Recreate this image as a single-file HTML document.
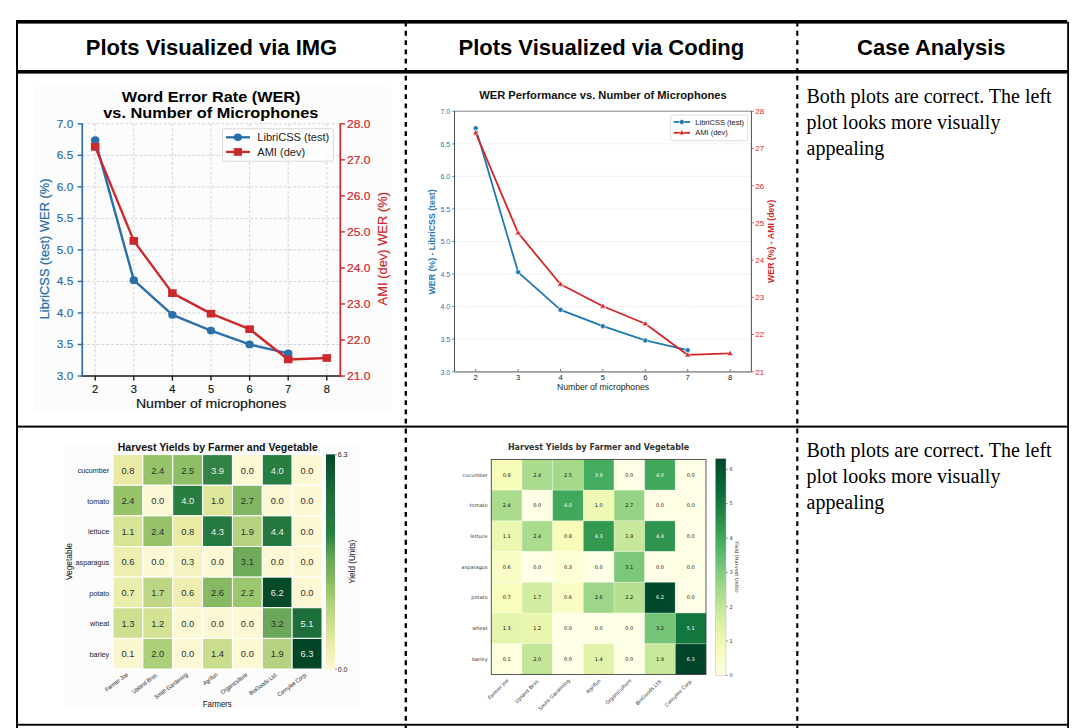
<!DOCTYPE html>
<html><head><meta charset="utf-8"><title>Plots comparison</title>
<style>
html,body{margin:0;padding:0;background:#fff;}
body{width:1080px;height:728px;overflow:hidden;position:relative;font-family:"Liberation Sans",sans-serif;}
svg{position:absolute;left:0;top:0;}
</style></head><body>
<svg width="1080" height="728" viewBox="0 0 1080 728" font-family="Liberation Sans, sans-serif">
<rect x="16.00" y="20.00" width="1051.20" height="3.60" fill="#000"/>
<rect x="16.00" y="70.00" width="1053.00" height="3.60" fill="#000"/>
<rect x="16.00" y="425.60" width="1053.00" height="2.00" fill="#000"/>
<rect x="16.00" y="723.80" width="1053.00" height="1.90" fill="#000"/>
<rect x="16.00" y="20.00" width="2.00" height="708.00" fill="#000"/>
<rect x="1067.20" y="21.80" width="1.80" height="706.20" fill="#000"/>
<line x1="405.8" y1="21.6" x2="405.8" y2="70" stroke="#000" stroke-width="2.4" stroke-dasharray="4.8 4.47"/>
<line x1="405.8" y1="75.7" x2="405.8" y2="425.6" stroke="#000" stroke-width="2.4" stroke-dasharray="4.8 4.47"/>
<line x1="405.8" y1="428.6" x2="405.8" y2="723.8" stroke="#000" stroke-width="2.4" stroke-dasharray="4.8 4.47"/>
<line x1="405.8" y1="725.6" x2="405.8" y2="728" stroke="#000" stroke-width="2.4" stroke-dasharray="4.8 4.47"/>
<line x1="797.3" y1="21.6" x2="797.3" y2="70" stroke="#000" stroke-width="2.2" stroke-dasharray="4.8 4.47"/>
<line x1="797.3" y1="75.7" x2="797.3" y2="425.6" stroke="#000" stroke-width="2.2" stroke-dasharray="4.8 4.47"/>
<line x1="797.3" y1="428.6" x2="797.3" y2="723.8" stroke="#000" stroke-width="2.2" stroke-dasharray="4.8 4.47"/>
<line x1="797.3" y1="725.6" x2="797.3" y2="728" stroke="#000" stroke-width="2.2" stroke-dasharray="4.8 4.47"/>
<text x="211.50" y="55.00" font-size="22" fill="#000" text-anchor="middle" font-weight="bold">Plots Visualized via IMG</text>
<text x="601.30" y="55.00" font-size="22" fill="#000" text-anchor="middle" font-weight="bold">Plots Visualized via Coding</text>
<text x="931.30" y="55.00" font-size="22" fill="#000" text-anchor="middle" font-weight="bold">Case Analysis</text>
<text x="806.50" y="102.70" font-size="20" fill="#000" text-anchor="start" font-family="Liberation Serif, serif">Both plots are correct. The left</text>
<text x="806.50" y="128.60" font-size="20" fill="#000" text-anchor="start" font-family="Liberation Serif, serif">plot looks more visually</text>
<text x="806.50" y="154.50" font-size="20" fill="#000" text-anchor="start" font-family="Liberation Serif, serif">appealing</text>
<text x="806.50" y="456.90" font-size="20" fill="#000" text-anchor="start" font-family="Liberation Serif, serif">Both plots are correct. The left</text>
<text x="806.50" y="482.80" font-size="20" fill="#000" text-anchor="start" font-family="Liberation Serif, serif">plot looks more visually</text>
<text x="806.50" y="508.70" font-size="20" fill="#000" text-anchor="start" font-family="Liberation Serif, serif">appealing</text>
<rect x="34.00" y="86.00" width="357.00" height="326.00" fill="#fcfcfc"/>
<line x1="95.20" y1="123.80" x2="95.20" y2="376.00" stroke="#d2d2d2" stroke-width="1.0" stroke-dasharray="2.8 2.0"/>
<line x1="133.80" y1="123.80" x2="133.80" y2="376.00" stroke="#d2d2d2" stroke-width="1.0" stroke-dasharray="2.8 2.0"/>
<line x1="172.40" y1="123.80" x2="172.40" y2="376.00" stroke="#d2d2d2" stroke-width="1.0" stroke-dasharray="2.8 2.0"/>
<line x1="211.00" y1="123.80" x2="211.00" y2="376.00" stroke="#d2d2d2" stroke-width="1.0" stroke-dasharray="2.8 2.0"/>
<line x1="249.60" y1="123.80" x2="249.60" y2="376.00" stroke="#d2d2d2" stroke-width="1.0" stroke-dasharray="2.8 2.0"/>
<line x1="288.20" y1="123.80" x2="288.20" y2="376.00" stroke="#d2d2d2" stroke-width="1.0" stroke-dasharray="2.8 2.0"/>
<line x1="326.80" y1="123.80" x2="326.80" y2="376.00" stroke="#d2d2d2" stroke-width="1.0" stroke-dasharray="2.8 2.0"/>
<line x1="82.25" y1="376.00" x2="340.30" y2="376.00" stroke="#d2d2d2" stroke-width="1.0" stroke-dasharray="2.8 2.0"/>
<line x1="82.25" y1="344.47" x2="340.30" y2="344.47" stroke="#d2d2d2" stroke-width="1.0" stroke-dasharray="2.8 2.0"/>
<line x1="82.25" y1="312.95" x2="340.30" y2="312.95" stroke="#d2d2d2" stroke-width="1.0" stroke-dasharray="2.8 2.0"/>
<line x1="82.25" y1="281.43" x2="340.30" y2="281.43" stroke="#d2d2d2" stroke-width="1.0" stroke-dasharray="2.8 2.0"/>
<line x1="82.25" y1="249.90" x2="340.30" y2="249.90" stroke="#d2d2d2" stroke-width="1.0" stroke-dasharray="2.8 2.0"/>
<line x1="82.25" y1="218.38" x2="340.30" y2="218.38" stroke="#d2d2d2" stroke-width="1.0" stroke-dasharray="2.8 2.0"/>
<line x1="82.25" y1="186.85" x2="340.30" y2="186.85" stroke="#d2d2d2" stroke-width="1.0" stroke-dasharray="2.8 2.0"/>
<line x1="82.25" y1="155.32" x2="340.30" y2="155.32" stroke="#d2d2d2" stroke-width="1.0" stroke-dasharray="2.8 2.0"/>
<line x1="82.25" y1="123.80" x2="340.30" y2="123.80" stroke="#d2d2d2" stroke-width="1.0" stroke-dasharray="2.8 2.0"/>
<line x1="81.40" y1="376.00" x2="341.15" y2="376.00" stroke="#1a1a1a" stroke-width="1.7"/>
<line x1="82.25" y1="123.50" x2="82.25" y2="376.85" stroke="#2a6faa" stroke-width="1.7"/>
<line x1="340.30" y1="123.50" x2="340.30" y2="376.85" stroke="#cc292d" stroke-width="1.7"/>
<line x1="95.20" y1="376.00" x2="95.20" y2="380.60" stroke="#1a1a1a" stroke-width="1.4"/>
<text x="95.20" y="393.20" font-size="11.2" fill="#111" text-anchor="middle" textLength="6.2" lengthAdjust="spacingAndGlyphs" stroke="#111" stroke-width="0.15">2</text>
<line x1="133.80" y1="376.00" x2="133.80" y2="380.60" stroke="#1a1a1a" stroke-width="1.4"/>
<text x="133.80" y="393.20" font-size="11.2" fill="#111" text-anchor="middle" textLength="6.2" lengthAdjust="spacingAndGlyphs" stroke="#111" stroke-width="0.15">3</text>
<line x1="172.40" y1="376.00" x2="172.40" y2="380.60" stroke="#1a1a1a" stroke-width="1.4"/>
<text x="172.40" y="393.20" font-size="11.2" fill="#111" text-anchor="middle" textLength="6.2" lengthAdjust="spacingAndGlyphs" stroke="#111" stroke-width="0.15">4</text>
<line x1="211.00" y1="376.00" x2="211.00" y2="380.60" stroke="#1a1a1a" stroke-width="1.4"/>
<text x="211.00" y="393.20" font-size="11.2" fill="#111" text-anchor="middle" textLength="6.2" lengthAdjust="spacingAndGlyphs" stroke="#111" stroke-width="0.15">5</text>
<line x1="249.60" y1="376.00" x2="249.60" y2="380.60" stroke="#1a1a1a" stroke-width="1.4"/>
<text x="249.60" y="393.20" font-size="11.2" fill="#111" text-anchor="middle" textLength="6.2" lengthAdjust="spacingAndGlyphs" stroke="#111" stroke-width="0.15">6</text>
<line x1="288.20" y1="376.00" x2="288.20" y2="380.60" stroke="#1a1a1a" stroke-width="1.4"/>
<text x="288.20" y="393.20" font-size="11.2" fill="#111" text-anchor="middle" textLength="6.2" lengthAdjust="spacingAndGlyphs" stroke="#111" stroke-width="0.15">7</text>
<line x1="326.80" y1="376.00" x2="326.80" y2="380.60" stroke="#1a1a1a" stroke-width="1.4"/>
<text x="326.80" y="393.20" font-size="11.2" fill="#111" text-anchor="middle" textLength="6.2" lengthAdjust="spacingAndGlyphs" stroke="#111" stroke-width="0.15">8</text>
<line x1="77.65" y1="376.00" x2="82.25" y2="376.00" stroke="#2a6faa" stroke-width="1.4"/>
<text x="73.20" y="380.00" font-size="11.4" fill="#2a6faa" text-anchor="end" textLength="16.4" lengthAdjust="spacingAndGlyphs" stroke="#2a6faa" stroke-width="0.2">3.0</text>
<line x1="77.65" y1="344.47" x2="82.25" y2="344.47" stroke="#2a6faa" stroke-width="1.4"/>
<text x="73.20" y="348.47" font-size="11.4" fill="#2a6faa" text-anchor="end" textLength="16.4" lengthAdjust="spacingAndGlyphs" stroke="#2a6faa" stroke-width="0.2">3.5</text>
<line x1="77.65" y1="312.95" x2="82.25" y2="312.95" stroke="#2a6faa" stroke-width="1.4"/>
<text x="73.20" y="316.95" font-size="11.4" fill="#2a6faa" text-anchor="end" textLength="16.4" lengthAdjust="spacingAndGlyphs" stroke="#2a6faa" stroke-width="0.2">4.0</text>
<line x1="77.65" y1="281.43" x2="82.25" y2="281.43" stroke="#2a6faa" stroke-width="1.4"/>
<text x="73.20" y="285.43" font-size="11.4" fill="#2a6faa" text-anchor="end" textLength="16.4" lengthAdjust="spacingAndGlyphs" stroke="#2a6faa" stroke-width="0.2">4.5</text>
<line x1="77.65" y1="249.90" x2="82.25" y2="249.90" stroke="#2a6faa" stroke-width="1.4"/>
<text x="73.20" y="253.90" font-size="11.4" fill="#2a6faa" text-anchor="end" textLength="16.4" lengthAdjust="spacingAndGlyphs" stroke="#2a6faa" stroke-width="0.2">5.0</text>
<line x1="77.65" y1="218.38" x2="82.25" y2="218.38" stroke="#2a6faa" stroke-width="1.4"/>
<text x="73.20" y="222.38" font-size="11.4" fill="#2a6faa" text-anchor="end" textLength="16.4" lengthAdjust="spacingAndGlyphs" stroke="#2a6faa" stroke-width="0.2">5.5</text>
<line x1="77.65" y1="186.85" x2="82.25" y2="186.85" stroke="#2a6faa" stroke-width="1.4"/>
<text x="73.20" y="190.85" font-size="11.4" fill="#2a6faa" text-anchor="end" textLength="16.4" lengthAdjust="spacingAndGlyphs" stroke="#2a6faa" stroke-width="0.2">6.0</text>
<line x1="77.65" y1="155.32" x2="82.25" y2="155.32" stroke="#2a6faa" stroke-width="1.4"/>
<text x="73.20" y="159.32" font-size="11.4" fill="#2a6faa" text-anchor="end" textLength="16.4" lengthAdjust="spacingAndGlyphs" stroke="#2a6faa" stroke-width="0.2">6.5</text>
<line x1="77.65" y1="123.80" x2="82.25" y2="123.80" stroke="#2a6faa" stroke-width="1.4"/>
<text x="73.20" y="127.80" font-size="11.4" fill="#2a6faa" text-anchor="end" textLength="16.4" lengthAdjust="spacingAndGlyphs" stroke="#2a6faa" stroke-width="0.2">7.0</text>
<line x1="340.30" y1="376.01" x2="344.90" y2="376.01" stroke="#cc292d" stroke-width="1.4"/>
<text x="347.00" y="380.01" font-size="11.4" fill="#cc292d" text-anchor="start" textLength="23.3" lengthAdjust="spacingAndGlyphs" stroke="#cc292d" stroke-width="0.2">21.0</text>
<line x1="340.30" y1="339.98" x2="344.90" y2="339.98" stroke="#cc292d" stroke-width="1.4"/>
<text x="347.00" y="343.98" font-size="11.4" fill="#cc292d" text-anchor="start" textLength="23.3" lengthAdjust="spacingAndGlyphs" stroke="#cc292d" stroke-width="0.2">22.0</text>
<line x1="340.30" y1="303.95" x2="344.90" y2="303.95" stroke="#cc292d" stroke-width="1.4"/>
<text x="347.00" y="307.95" font-size="11.4" fill="#cc292d" text-anchor="start" textLength="23.3" lengthAdjust="spacingAndGlyphs" stroke="#cc292d" stroke-width="0.2">23.0</text>
<line x1="340.30" y1="267.92" x2="344.90" y2="267.92" stroke="#cc292d" stroke-width="1.4"/>
<text x="347.00" y="271.92" font-size="11.4" fill="#cc292d" text-anchor="start" textLength="23.3" lengthAdjust="spacingAndGlyphs" stroke="#cc292d" stroke-width="0.2">24.0</text>
<line x1="340.30" y1="231.89" x2="344.90" y2="231.89" stroke="#cc292d" stroke-width="1.4"/>
<text x="347.00" y="235.89" font-size="11.4" fill="#cc292d" text-anchor="start" textLength="23.3" lengthAdjust="spacingAndGlyphs" stroke="#cc292d" stroke-width="0.2">25.0</text>
<line x1="340.30" y1="195.86" x2="344.90" y2="195.86" stroke="#cc292d" stroke-width="1.4"/>
<text x="347.00" y="199.86" font-size="11.4" fill="#cc292d" text-anchor="start" textLength="23.3" lengthAdjust="spacingAndGlyphs" stroke="#cc292d" stroke-width="0.2">26.0</text>
<line x1="340.30" y1="159.83" x2="344.90" y2="159.83" stroke="#cc292d" stroke-width="1.4"/>
<text x="347.00" y="163.83" font-size="11.4" fill="#cc292d" text-anchor="start" textLength="23.3" lengthAdjust="spacingAndGlyphs" stroke="#cc292d" stroke-width="0.2">27.0</text>
<line x1="340.30" y1="123.80" x2="344.90" y2="123.80" stroke="#cc292d" stroke-width="1.4"/>
<text x="347.00" y="127.80" font-size="11.4" fill="#cc292d" text-anchor="start" textLength="23.3" lengthAdjust="spacingAndGlyphs" stroke="#cc292d" stroke-width="0.2">28.0</text>
<text x="211.10" y="408.10" font-size="12.2" fill="#111" text-anchor="middle" textLength="150.4" lengthAdjust="spacingAndGlyphs" stroke="#111" stroke-width="0.15">Number of microphones</text>
<text x="48.60" y="248.90" font-size="13.2" fill="#2a6faa" text-anchor="middle" textLength="140.8" lengthAdjust="spacingAndGlyphs" transform="rotate(-90 48.60 248.90)" stroke="#2a6faa" stroke-width="0.2">LibriCSS (test) WER (%)</text>
<text x="386.60" y="248.70" font-size="13.2" fill="#cc292d" text-anchor="middle" textLength="113.4" lengthAdjust="spacingAndGlyphs" transform="rotate(-90 386.60 248.70)" stroke="#cc292d" stroke-width="0.2">AMI (dev) WER (%)</text>
<text x="211.20" y="101.50" font-size="14.2" fill="#000" text-anchor="middle" font-weight="bold" textLength="178.7" lengthAdjust="spacingAndGlyphs">Word Error Rate (WER)</text>
<text x="210.80" y="117.60" font-size="14.2" fill="#000" text-anchor="middle" font-weight="bold" textLength="215.1" lengthAdjust="spacingAndGlyphs">vs. Number of Microphones</text>
<polyline points="95.20,140.19 133.80,280.16 172.40,314.84 211.00,330.60 249.60,344.47 288.20,353.30" fill="none" stroke="#2a6faa" stroke-width="2.4" stroke-linejoin="round"/>
<ellipse cx="95.20" cy="140.19" rx="4.2" ry="3.9" fill="#2a6faa"/>
<ellipse cx="133.80" cy="280.16" rx="4.2" ry="3.9" fill="#2a6faa"/>
<ellipse cx="172.40" cy="314.84" rx="4.2" ry="3.9" fill="#2a6faa"/>
<ellipse cx="211.00" cy="330.60" rx="4.2" ry="3.9" fill="#2a6faa"/>
<ellipse cx="249.60" cy="344.47" rx="4.2" ry="3.9" fill="#2a6faa"/>
<ellipse cx="288.20" cy="353.30" rx="4.2" ry="3.9" fill="#2a6faa"/>
<polyline points="95.20,146.86 133.80,240.90 172.40,293.14 211.00,313.68 249.60,329.17 288.20,359.44 326.80,358.00" fill="none" stroke="#cc292d" stroke-width="2.4" stroke-linejoin="round"/>
<rect x="90.90" y="143.01" width="8.60" height="7.70" fill="#cc292d"/>
<rect x="129.50" y="237.05" width="8.60" height="7.70" fill="#cc292d"/>
<rect x="168.10" y="289.29" width="8.60" height="7.70" fill="#cc292d"/>
<rect x="206.70" y="309.83" width="8.60" height="7.70" fill="#cc292d"/>
<rect x="245.30" y="325.32" width="8.60" height="7.70" fill="#cc292d"/>
<rect x="283.90" y="355.59" width="8.60" height="7.70" fill="#cc292d"/>
<rect x="322.50" y="354.14" width="8.60" height="7.70" fill="#cc292d"/>
<rect x="222.6" y="128.8" width="110.8" height="32.4" rx="2" fill="#fff" fill-opacity="0.85" stroke="#d4d4d4" stroke-width="0.9"/>
<line x1="226.00" y1="137.30" x2="250.00" y2="137.30" stroke="#2a6faa" stroke-width="2.3"/>
<ellipse cx="237.9" cy="137.3" rx="4.1" ry="3.8" fill="#2a6faa"/>
<line x1="226.00" y1="151.90" x2="250.00" y2="151.90" stroke="#cc292d" stroke-width="2.3"/>
<rect x="233.80" y="148.10" width="8.20" height="7.70" fill="#cc292d"/>
<text x="257.30" y="140.90" font-size="10.2" fill="#222" text-anchor="start" textLength="72" lengthAdjust="spacingAndGlyphs">LibriCSS (test)</text>
<text x="257.30" y="155.60" font-size="10.2" fill="#222" text-anchor="start" textLength="47.9" lengthAdjust="spacingAndGlyphs">AMI (dev)</text>
<line x1="454.50" y1="339.15" x2="751.40" y2="339.15" stroke="#dedede" stroke-width="0.7" stroke-dasharray="1.6 1.2"/>
<line x1="454.50" y1="306.60" x2="751.40" y2="306.60" stroke="#dedede" stroke-width="0.7" stroke-dasharray="1.6 1.2"/>
<line x1="454.50" y1="274.05" x2="751.40" y2="274.05" stroke="#dedede" stroke-width="0.7" stroke-dasharray="1.6 1.2"/>
<line x1="454.50" y1="241.50" x2="751.40" y2="241.50" stroke="#dedede" stroke-width="0.7" stroke-dasharray="1.6 1.2"/>
<line x1="454.50" y1="208.95" x2="751.40" y2="208.95" stroke="#dedede" stroke-width="0.7" stroke-dasharray="1.6 1.2"/>
<line x1="454.50" y1="176.40" x2="751.40" y2="176.40" stroke="#dedede" stroke-width="0.7" stroke-dasharray="1.6 1.2"/>
<line x1="454.50" y1="143.85" x2="751.40" y2="143.85" stroke="#dedede" stroke-width="0.7" stroke-dasharray="1.6 1.2"/>
<polyline points="475.70,128.23 518.10,272.10 560.50,309.85 602.90,326.13 645.30,340.45 687.70,350.22" fill="none" stroke="#1f77b4" stroke-width="1.8" stroke-linejoin="round"/>
<polyline points="475.70,132.88 518.10,232.94 560.50,284.28 602.90,306.23 645.30,323.71 687.70,354.96 730.10,353.47" fill="none" stroke="#d62728" stroke-width="1.8" stroke-linejoin="round"/>
<circle cx="475.70" cy="128.23" r="2.5" fill="#1f77b4" stroke="#fff" stroke-width="0.6"/>
<circle cx="518.10" cy="272.10" r="2.5" fill="#1f77b4" stroke="#fff" stroke-width="0.6"/>
<circle cx="560.50" cy="309.85" r="2.5" fill="#1f77b4" stroke="#fff" stroke-width="0.6"/>
<circle cx="602.90" cy="326.13" r="2.5" fill="#1f77b4" stroke="#fff" stroke-width="0.6"/>
<circle cx="645.30" cy="340.45" r="2.5" fill="#1f77b4" stroke="#fff" stroke-width="0.6"/>
<circle cx="687.70" cy="350.22" r="2.5" fill="#1f77b4" stroke="#fff" stroke-width="0.6"/>
<polygon points="475.70,129.68 478.74,134.80 472.66,134.80" fill="#d62728" stroke="#fff" stroke-width="0.6"/>
<polygon points="518.10,229.74 521.14,234.86 515.06,234.86" fill="#d62728" stroke="#fff" stroke-width="0.6"/>
<polygon points="560.50,281.08 563.54,286.20 557.46,286.20" fill="#d62728" stroke="#fff" stroke-width="0.6"/>
<polygon points="602.90,303.03 605.94,308.15 599.86,308.15" fill="#d62728" stroke="#fff" stroke-width="0.6"/>
<polygon points="645.30,320.51 648.34,325.63 642.26,325.63" fill="#d62728" stroke="#fff" stroke-width="0.6"/>
<polygon points="687.70,351.76 690.74,356.88 684.66,356.88" fill="#d62728" stroke="#fff" stroke-width="0.6"/>
<polygon points="730.10,350.27 733.14,355.39 727.06,355.39" fill="#d62728" stroke="#fff" stroke-width="0.6"/>
<line x1="454.00" y1="111.20" x2="751.90" y2="111.20" stroke="#777" stroke-width="0.9"/>
<line x1="454.50" y1="111.20" x2="454.50" y2="371.50" stroke="#4d4d4d" stroke-width="1.0"/>
<line x1="751.40" y1="111.20" x2="751.40" y2="371.50" stroke="#4d4d4d" stroke-width="1.0"/>
<line x1="454.00" y1="371.90" x2="751.90" y2="371.90" stroke="#9a9a9a" stroke-width="1.7"/>
<line x1="475.70" y1="369.10" x2="475.70" y2="371.10" stroke="#444" stroke-width="0.8"/>
<text x="475.70" y="379.90" font-size="7.6" fill="#222" text-anchor="middle">2</text>
<line x1="518.10" y1="369.10" x2="518.10" y2="371.10" stroke="#444" stroke-width="0.8"/>
<text x="518.10" y="379.90" font-size="7.6" fill="#222" text-anchor="middle">3</text>
<line x1="560.50" y1="369.10" x2="560.50" y2="371.10" stroke="#444" stroke-width="0.8"/>
<text x="560.50" y="379.90" font-size="7.6" fill="#222" text-anchor="middle">4</text>
<line x1="602.90" y1="369.10" x2="602.90" y2="371.10" stroke="#444" stroke-width="0.8"/>
<text x="602.90" y="379.90" font-size="7.6" fill="#222" text-anchor="middle">5</text>
<line x1="645.30" y1="369.10" x2="645.30" y2="371.10" stroke="#444" stroke-width="0.8"/>
<text x="645.30" y="379.90" font-size="7.6" fill="#222" text-anchor="middle">6</text>
<line x1="687.70" y1="369.10" x2="687.70" y2="371.10" stroke="#444" stroke-width="0.8"/>
<text x="687.70" y="379.90" font-size="7.6" fill="#222" text-anchor="middle">7</text>
<line x1="730.10" y1="369.10" x2="730.10" y2="371.10" stroke="#444" stroke-width="0.8"/>
<text x="730.10" y="379.90" font-size="7.6" fill="#222" text-anchor="middle">8</text>
<line x1="452.20" y1="371.70" x2="454.50" y2="371.70" stroke="#1f77b4" stroke-width="0.8"/>
<text x="450.20" y="374.50" font-size="7.6" fill="#1f77b4" text-anchor="end" textLength="9.8" lengthAdjust="spacingAndGlyphs">3.0</text>
<line x1="452.20" y1="339.15" x2="454.50" y2="339.15" stroke="#1f77b4" stroke-width="0.8"/>
<text x="450.20" y="341.95" font-size="7.6" fill="#1f77b4" text-anchor="end" textLength="9.8" lengthAdjust="spacingAndGlyphs">3.5</text>
<line x1="452.20" y1="306.60" x2="454.50" y2="306.60" stroke="#1f77b4" stroke-width="0.8"/>
<text x="450.20" y="309.40" font-size="7.6" fill="#1f77b4" text-anchor="end" textLength="9.8" lengthAdjust="spacingAndGlyphs">4.0</text>
<line x1="452.20" y1="274.05" x2="454.50" y2="274.05" stroke="#1f77b4" stroke-width="0.8"/>
<text x="450.20" y="276.85" font-size="7.6" fill="#1f77b4" text-anchor="end" textLength="9.8" lengthAdjust="spacingAndGlyphs">4.5</text>
<line x1="452.20" y1="241.50" x2="454.50" y2="241.50" stroke="#1f77b4" stroke-width="0.8"/>
<text x="450.20" y="244.30" font-size="7.6" fill="#1f77b4" text-anchor="end" textLength="9.8" lengthAdjust="spacingAndGlyphs">5.0</text>
<line x1="452.20" y1="208.95" x2="454.50" y2="208.95" stroke="#1f77b4" stroke-width="0.8"/>
<text x="450.20" y="211.75" font-size="7.6" fill="#1f77b4" text-anchor="end" textLength="9.8" lengthAdjust="spacingAndGlyphs">5.5</text>
<line x1="452.20" y1="176.40" x2="454.50" y2="176.40" stroke="#1f77b4" stroke-width="0.8"/>
<text x="450.20" y="179.20" font-size="7.6" fill="#1f77b4" text-anchor="end" textLength="9.8" lengthAdjust="spacingAndGlyphs">6.0</text>
<line x1="452.20" y1="143.85" x2="454.50" y2="143.85" stroke="#1f77b4" stroke-width="0.8"/>
<text x="450.20" y="146.65" font-size="7.6" fill="#1f77b4" text-anchor="end" textLength="9.8" lengthAdjust="spacingAndGlyphs">6.5</text>
<line x1="452.20" y1="111.30" x2="454.50" y2="111.30" stroke="#1f77b4" stroke-width="0.8"/>
<text x="450.20" y="114.10" font-size="7.6" fill="#1f77b4" text-anchor="end" textLength="9.8" lengthAdjust="spacingAndGlyphs">7.0</text>
<line x1="751.40" y1="371.70" x2="753.70" y2="371.70" stroke="#d62728" stroke-width="0.8"/>
<text x="755.30" y="374.50" font-size="7.6" fill="#d62728" text-anchor="start" textLength="8.9" lengthAdjust="spacingAndGlyphs">21</text>
<line x1="751.40" y1="334.50" x2="753.70" y2="334.50" stroke="#d62728" stroke-width="0.8"/>
<text x="755.30" y="337.30" font-size="7.6" fill="#d62728" text-anchor="start" textLength="8.9" lengthAdjust="spacingAndGlyphs">22</text>
<line x1="751.40" y1="297.30" x2="753.70" y2="297.30" stroke="#d62728" stroke-width="0.8"/>
<text x="755.30" y="300.10" font-size="7.6" fill="#d62728" text-anchor="start" textLength="8.9" lengthAdjust="spacingAndGlyphs">23</text>
<line x1="751.40" y1="260.10" x2="753.70" y2="260.10" stroke="#d62728" stroke-width="0.8"/>
<text x="755.30" y="262.90" font-size="7.6" fill="#d62728" text-anchor="start" textLength="8.9" lengthAdjust="spacingAndGlyphs">24</text>
<line x1="751.40" y1="222.90" x2="753.70" y2="222.90" stroke="#d62728" stroke-width="0.8"/>
<text x="755.30" y="225.70" font-size="7.6" fill="#d62728" text-anchor="start" textLength="8.9" lengthAdjust="spacingAndGlyphs">25</text>
<line x1="751.40" y1="185.70" x2="753.70" y2="185.70" stroke="#d62728" stroke-width="0.8"/>
<text x="755.30" y="188.50" font-size="7.6" fill="#d62728" text-anchor="start" textLength="8.9" lengthAdjust="spacingAndGlyphs">26</text>
<line x1="751.40" y1="148.50" x2="753.70" y2="148.50" stroke="#d62728" stroke-width="0.8"/>
<text x="755.30" y="151.30" font-size="7.6" fill="#d62728" text-anchor="start" textLength="8.9" lengthAdjust="spacingAndGlyphs">27</text>
<line x1="751.40" y1="111.30" x2="753.70" y2="111.30" stroke="#d62728" stroke-width="0.8"/>
<text x="755.30" y="114.10" font-size="7.6" fill="#d62728" text-anchor="start" textLength="8.9" lengthAdjust="spacingAndGlyphs">28</text>
<text x="603.00" y="389.70" font-size="8.6" fill="#222" text-anchor="middle" textLength="92.2" lengthAdjust="spacingAndGlyphs">Number of microphones</text>
<text x="434.60" y="241.90" font-size="8.7" fill="#1f77b4" text-anchor="middle" font-weight="bold" textLength="105" lengthAdjust="spacingAndGlyphs" transform="rotate(-90 434.60 241.90)">WER (%) - LibriCSS (test)</text>
<text x="773.60" y="241.40" font-size="8.7" fill="#d62728" text-anchor="middle" font-weight="bold" textLength="83" lengthAdjust="spacingAndGlyphs" transform="rotate(-90 773.60 241.40)">WER (%) - AMI (dev)</text>
<text x="603.00" y="99.00" font-size="11.2" fill="#111" text-anchor="middle" font-weight="bold" textLength="247.6" lengthAdjust="spacingAndGlyphs">WER Performance vs. Number of Microphones</text>
<rect x="670.8" y="115" width="76.8" height="25.7" rx="1.5" fill="#fff" fill-opacity="0.9" stroke="#d0d0d0" stroke-width="0.7"/>
<line x1="673.80" y1="122.00" x2="690.00" y2="122.00" stroke="#1f77b4" stroke-width="1.8"/>
<circle cx="681.9" cy="122" r="2.5" fill="#1f77b4" stroke="#fff" stroke-width="0.6"/>
<line x1="673.80" y1="132.80" x2="690.00" y2="132.80" stroke="#d62728" stroke-width="1.8"/>
<polygon points="681.90,129.60 684.94,134.72 678.86,134.72" fill="#d62728" stroke="#fff" stroke-width="0.6"/>
<text x="695.30" y="124.70" font-size="7.5" fill="#222" text-anchor="start" textLength="48.8" lengthAdjust="spacingAndGlyphs">LibriCSS (test)</text>
<text x="695.30" y="134.80" font-size="7.5" fill="#222" text-anchor="start" textLength="32.5" lengthAdjust="spacingAndGlyphs">AMI (dev)</text>
<rect x="64.00" y="442.00" width="296.00" height="267.00" fill="#fcfcfc"/>
<rect x="113.00" y="454.60" width="29.86" height="30.63" fill="#e9eba5" stroke="#fff" stroke-width="1"/>
<rect x="142.86" y="454.60" width="29.86" height="30.63" fill="#96c369" stroke="#fff" stroke-width="1"/>
<rect x="172.71" y="454.60" width="29.86" height="30.63" fill="#8ebe66" stroke="#fff" stroke-width="1"/>
<rect x="202.57" y="454.60" width="29.86" height="30.63" fill="#318244" stroke="#fff" stroke-width="1"/>
<rect x="232.43" y="454.60" width="29.86" height="30.63" fill="#fcf8d4" stroke="#fff" stroke-width="1"/>
<rect x="262.28" y="454.60" width="29.86" height="30.63" fill="#287d41" stroke="#fff" stroke-width="1"/>
<rect x="292.14" y="454.60" width="29.86" height="30.63" fill="#fcf8d4" stroke="#fff" stroke-width="1"/>
<rect x="113.00" y="485.23" width="29.86" height="30.63" fill="#96c369" stroke="#fff" stroke-width="1"/>
<rect x="142.86" y="485.23" width="29.86" height="30.63" fill="#fcf8d4" stroke="#fff" stroke-width="1"/>
<rect x="172.71" y="485.23" width="29.86" height="30.63" fill="#287d41" stroke="#fff" stroke-width="1"/>
<rect x="202.57" y="485.23" width="29.86" height="30.63" fill="#dde69b" stroke="#fff" stroke-width="1"/>
<rect x="232.43" y="485.23" width="29.86" height="30.63" fill="#82b662" stroke="#fff" stroke-width="1"/>
<rect x="262.28" y="485.23" width="29.86" height="30.63" fill="#fcf8d4" stroke="#fff" stroke-width="1"/>
<rect x="292.14" y="485.23" width="29.86" height="30.63" fill="#fcf8d4" stroke="#fff" stroke-width="1"/>
<rect x="113.00" y="515.86" width="29.86" height="30.63" fill="#d7e496" stroke="#fff" stroke-width="1"/>
<rect x="142.86" y="515.86" width="29.86" height="30.63" fill="#96c369" stroke="#fff" stroke-width="1"/>
<rect x="172.71" y="515.86" width="29.86" height="30.63" fill="#e9eba5" stroke="#fff" stroke-width="1"/>
<rect x="202.57" y="515.86" width="29.86" height="30.63" fill="#257940" stroke="#fff" stroke-width="1"/>
<rect x="232.43" y="515.86" width="29.86" height="30.63" fill="#b4d280" stroke="#fff" stroke-width="1"/>
<rect x="262.28" y="515.86" width="29.86" height="30.63" fill="#24783f" stroke="#fff" stroke-width="1"/>
<rect x="292.14" y="515.86" width="29.86" height="30.63" fill="#fcf8d4" stroke="#fff" stroke-width="1"/>
<rect x="113.00" y="546.49" width="29.86" height="30.63" fill="#eeeeb1" stroke="#fff" stroke-width="1"/>
<rect x="142.86" y="546.49" width="29.86" height="30.63" fill="#fcf8d4" stroke="#fff" stroke-width="1"/>
<rect x="172.71" y="546.49" width="29.86" height="30.63" fill="#f5f3c2" stroke="#fff" stroke-width="1"/>
<rect x="202.57" y="546.49" width="29.86" height="30.63" fill="#fcf8d4" stroke="#fff" stroke-width="1"/>
<rect x="232.43" y="546.49" width="29.86" height="30.63" fill="#6eaa5a" stroke="#fff" stroke-width="1"/>
<rect x="262.28" y="546.49" width="29.86" height="30.63" fill="#fcf8d4" stroke="#fff" stroke-width="1"/>
<rect x="292.14" y="546.49" width="29.86" height="30.63" fill="#fcf8d4" stroke="#fff" stroke-width="1"/>
<rect x="113.00" y="577.12" width="29.86" height="30.63" fill="#ebedab" stroke="#fff" stroke-width="1"/>
<rect x="142.86" y="577.12" width="29.86" height="30.63" fill="#bdd686" stroke="#fff" stroke-width="1"/>
<rect x="172.71" y="577.12" width="29.86" height="30.63" fill="#eeeeb1" stroke="#fff" stroke-width="1"/>
<rect x="202.57" y="577.12" width="29.86" height="30.63" fill="#87b964" stroke="#fff" stroke-width="1"/>
<rect x="232.43" y="577.12" width="29.86" height="30.63" fill="#9bc86e" stroke="#fff" stroke-width="1"/>
<rect x="262.28" y="577.12" width="29.86" height="30.63" fill="#054b28" stroke="#fff" stroke-width="1"/>
<rect x="292.14" y="577.12" width="29.86" height="30.63" fill="#fcf8d4" stroke="#fff" stroke-width="1"/>
<rect x="113.00" y="607.75" width="29.86" height="30.63" fill="#cee090" stroke="#fff" stroke-width="1"/>
<rect x="142.86" y="607.75" width="29.86" height="30.63" fill="#d3e293" stroke="#fff" stroke-width="1"/>
<rect x="172.71" y="607.75" width="29.86" height="30.63" fill="#fcf8d4" stroke="#fff" stroke-width="1"/>
<rect x="202.57" y="607.75" width="29.86" height="30.63" fill="#fcf8d4" stroke="#fff" stroke-width="1"/>
<rect x="232.43" y="607.75" width="29.86" height="30.63" fill="#fcf8d4" stroke="#fff" stroke-width="1"/>
<rect x="262.28" y="607.75" width="29.86" height="30.63" fill="#6ca85a" stroke="#fff" stroke-width="1"/>
<rect x="292.14" y="607.75" width="29.86" height="30.63" fill="#1e6e3c" stroke="#fff" stroke-width="1"/>
<rect x="113.00" y="638.38" width="29.86" height="30.63" fill="#faf6ce" stroke="#fff" stroke-width="1"/>
<rect x="142.86" y="638.38" width="29.86" height="30.63" fill="#accf7a" stroke="#fff" stroke-width="1"/>
<rect x="172.71" y="638.38" width="29.86" height="30.63" fill="#fcf8d4" stroke="#fff" stroke-width="1"/>
<rect x="202.57" y="638.38" width="29.86" height="30.63" fill="#cadd8e" stroke="#fff" stroke-width="1"/>
<rect x="232.43" y="638.38" width="29.86" height="30.63" fill="#fcf8d4" stroke="#fff" stroke-width="1"/>
<rect x="262.28" y="638.38" width="29.86" height="30.63" fill="#b4d280" stroke="#fff" stroke-width="1"/>
<rect x="292.14" y="638.38" width="29.86" height="30.63" fill="#024626" stroke="#fff" stroke-width="1"/>
<text x="127.93" y="473.52" font-size="9.4" fill="#303030" text-anchor="middle" textLength="13" lengthAdjust="spacingAndGlyphs">0.8</text>
<text x="157.79" y="473.52" font-size="9.4" fill="#303030" text-anchor="middle" textLength="13" lengthAdjust="spacingAndGlyphs">2.4</text>
<text x="187.64" y="473.52" font-size="9.4" fill="#303030" text-anchor="middle" textLength="13" lengthAdjust="spacingAndGlyphs">2.5</text>
<text x="217.50" y="473.52" font-size="9.4" fill="#eeeeee" text-anchor="middle" textLength="13" lengthAdjust="spacingAndGlyphs">3.9</text>
<text x="247.36" y="473.52" font-size="9.4" fill="#303030" text-anchor="middle" textLength="13" lengthAdjust="spacingAndGlyphs">0.0</text>
<text x="277.21" y="473.52" font-size="9.4" fill="#eeeeee" text-anchor="middle" textLength="13" lengthAdjust="spacingAndGlyphs">4.0</text>
<text x="307.07" y="473.52" font-size="9.4" fill="#303030" text-anchor="middle" textLength="13" lengthAdjust="spacingAndGlyphs">0.0</text>
<text x="127.93" y="504.15" font-size="9.4" fill="#303030" text-anchor="middle" textLength="13" lengthAdjust="spacingAndGlyphs">2.4</text>
<text x="157.79" y="504.15" font-size="9.4" fill="#303030" text-anchor="middle" textLength="13" lengthAdjust="spacingAndGlyphs">0.0</text>
<text x="187.64" y="504.15" font-size="9.4" fill="#eeeeee" text-anchor="middle" textLength="13" lengthAdjust="spacingAndGlyphs">4.0</text>
<text x="217.50" y="504.15" font-size="9.4" fill="#303030" text-anchor="middle" textLength="13" lengthAdjust="spacingAndGlyphs">1.0</text>
<text x="247.36" y="504.15" font-size="9.4" fill="#303030" text-anchor="middle" textLength="13" lengthAdjust="spacingAndGlyphs">2.7</text>
<text x="277.21" y="504.15" font-size="9.4" fill="#303030" text-anchor="middle" textLength="13" lengthAdjust="spacingAndGlyphs">0.0</text>
<text x="307.07" y="504.15" font-size="9.4" fill="#303030" text-anchor="middle" textLength="13" lengthAdjust="spacingAndGlyphs">0.0</text>
<text x="127.93" y="534.78" font-size="9.4" fill="#303030" text-anchor="middle" textLength="13" lengthAdjust="spacingAndGlyphs">1.1</text>
<text x="157.79" y="534.78" font-size="9.4" fill="#303030" text-anchor="middle" textLength="13" lengthAdjust="spacingAndGlyphs">2.4</text>
<text x="187.64" y="534.78" font-size="9.4" fill="#303030" text-anchor="middle" textLength="13" lengthAdjust="spacingAndGlyphs">0.8</text>
<text x="217.50" y="534.78" font-size="9.4" fill="#eeeeee" text-anchor="middle" textLength="13" lengthAdjust="spacingAndGlyphs">4.3</text>
<text x="247.36" y="534.78" font-size="9.4" fill="#303030" text-anchor="middle" textLength="13" lengthAdjust="spacingAndGlyphs">1.9</text>
<text x="277.21" y="534.78" font-size="9.4" fill="#eeeeee" text-anchor="middle" textLength="13" lengthAdjust="spacingAndGlyphs">4.4</text>
<text x="307.07" y="534.78" font-size="9.4" fill="#303030" text-anchor="middle" textLength="13" lengthAdjust="spacingAndGlyphs">0.0</text>
<text x="127.93" y="565.41" font-size="9.4" fill="#303030" text-anchor="middle" textLength="13" lengthAdjust="spacingAndGlyphs">0.6</text>
<text x="157.79" y="565.41" font-size="9.4" fill="#303030" text-anchor="middle" textLength="13" lengthAdjust="spacingAndGlyphs">0.0</text>
<text x="187.64" y="565.41" font-size="9.4" fill="#303030" text-anchor="middle" textLength="13" lengthAdjust="spacingAndGlyphs">0.3</text>
<text x="217.50" y="565.41" font-size="9.4" fill="#303030" text-anchor="middle" textLength="13" lengthAdjust="spacingAndGlyphs">0.0</text>
<text x="247.36" y="565.41" font-size="9.4" fill="#303030" text-anchor="middle" textLength="13" lengthAdjust="spacingAndGlyphs">3.1</text>
<text x="277.21" y="565.41" font-size="9.4" fill="#303030" text-anchor="middle" textLength="13" lengthAdjust="spacingAndGlyphs">0.0</text>
<text x="307.07" y="565.41" font-size="9.4" fill="#303030" text-anchor="middle" textLength="13" lengthAdjust="spacingAndGlyphs">0.0</text>
<text x="127.93" y="596.04" font-size="9.4" fill="#303030" text-anchor="middle" textLength="13" lengthAdjust="spacingAndGlyphs">0.7</text>
<text x="157.79" y="596.04" font-size="9.4" fill="#303030" text-anchor="middle" textLength="13" lengthAdjust="spacingAndGlyphs">1.7</text>
<text x="187.64" y="596.04" font-size="9.4" fill="#303030" text-anchor="middle" textLength="13" lengthAdjust="spacingAndGlyphs">0.6</text>
<text x="217.50" y="596.04" font-size="9.4" fill="#303030" text-anchor="middle" textLength="13" lengthAdjust="spacingAndGlyphs">2.6</text>
<text x="247.36" y="596.04" font-size="9.4" fill="#303030" text-anchor="middle" textLength="13" lengthAdjust="spacingAndGlyphs">2.2</text>
<text x="277.21" y="596.04" font-size="9.4" fill="#eeeeee" text-anchor="middle" textLength="13" lengthAdjust="spacingAndGlyphs">6.2</text>
<text x="307.07" y="596.04" font-size="9.4" fill="#303030" text-anchor="middle" textLength="13" lengthAdjust="spacingAndGlyphs">0.0</text>
<text x="127.93" y="626.67" font-size="9.4" fill="#303030" text-anchor="middle" textLength="13" lengthAdjust="spacingAndGlyphs">1.3</text>
<text x="157.79" y="626.67" font-size="9.4" fill="#303030" text-anchor="middle" textLength="13" lengthAdjust="spacingAndGlyphs">1.2</text>
<text x="187.64" y="626.67" font-size="9.4" fill="#303030" text-anchor="middle" textLength="13" lengthAdjust="spacingAndGlyphs">0.0</text>
<text x="217.50" y="626.67" font-size="9.4" fill="#303030" text-anchor="middle" textLength="13" lengthAdjust="spacingAndGlyphs">0.0</text>
<text x="247.36" y="626.67" font-size="9.4" fill="#303030" text-anchor="middle" textLength="13" lengthAdjust="spacingAndGlyphs">0.0</text>
<text x="277.21" y="626.67" font-size="9.4" fill="#303030" text-anchor="middle" textLength="13" lengthAdjust="spacingAndGlyphs">3.2</text>
<text x="307.07" y="626.67" font-size="9.4" fill="#eeeeee" text-anchor="middle" textLength="13" lengthAdjust="spacingAndGlyphs">5.1</text>
<text x="127.93" y="657.30" font-size="9.4" fill="#303030" text-anchor="middle" textLength="13" lengthAdjust="spacingAndGlyphs">0.1</text>
<text x="157.79" y="657.30" font-size="9.4" fill="#303030" text-anchor="middle" textLength="13" lengthAdjust="spacingAndGlyphs">2.0</text>
<text x="187.64" y="657.30" font-size="9.4" fill="#303030" text-anchor="middle" textLength="13" lengthAdjust="spacingAndGlyphs">0.0</text>
<text x="217.50" y="657.30" font-size="9.4" fill="#303030" text-anchor="middle" textLength="13" lengthAdjust="spacingAndGlyphs">1.4</text>
<text x="247.36" y="657.30" font-size="9.4" fill="#303030" text-anchor="middle" textLength="13" lengthAdjust="spacingAndGlyphs">0.0</text>
<text x="277.21" y="657.30" font-size="9.4" fill="#303030" text-anchor="middle" textLength="13" lengthAdjust="spacingAndGlyphs">1.9</text>
<text x="307.07" y="657.30" font-size="9.4" fill="#eeeeee" text-anchor="middle" textLength="13" lengthAdjust="spacingAndGlyphs">6.3</text>
<text x="109.20" y="473.12" font-size="7.2" fill="#222" text-anchor="end">cucumber</text>
<text x="109.20" y="503.75" font-size="7.2" fill="#222" text-anchor="end">tomato</text>
<text x="109.20" y="534.38" font-size="7.2" fill="#222" text-anchor="end">lettuce</text>
<text x="109.20" y="565.01" font-size="7.2" fill="#222" text-anchor="end">asparagus</text>
<text x="109.20" y="595.64" font-size="7.2" fill="#222" text-anchor="end">potato</text>
<text x="109.20" y="626.27" font-size="7.2" fill="#222" text-anchor="end">wheat</text>
<text x="109.20" y="656.90" font-size="7.2" fill="#222" text-anchor="end">barley</text>
<text x="128.53" y="675.40" font-size="6.0" fill="#1a1a1a" text-anchor="end" textLength="27.0" lengthAdjust="spacingAndGlyphs" transform="rotate(-37 128.53 675.40)">Farmer Joe</text>
<text x="158.39" y="675.40" font-size="6.0" fill="#1a1a1a" text-anchor="end" textLength="30.6" lengthAdjust="spacingAndGlyphs" transform="rotate(-37 158.39 675.40)">Upland Bros.</text>
<text x="188.24" y="675.40" font-size="6.0" fill="#1a1a1a" text-anchor="end" textLength="40.0" lengthAdjust="spacingAndGlyphs" transform="rotate(-37 188.24 675.40)">Smith Gardening</text>
<text x="218.10" y="675.40" font-size="6.0" fill="#1a1a1a" text-anchor="end" textLength="16.8" lengthAdjust="spacingAndGlyphs" transform="rotate(-37 218.10 675.40)">Agrifun</text>
<text x="247.96" y="675.40" font-size="6.0" fill="#1a1a1a" text-anchor="end" textLength="31.8" lengthAdjust="spacingAndGlyphs" transform="rotate(-37 247.96 675.40)">Organiculture</text>
<text x="277.81" y="675.40" font-size="6.0" fill="#1a1a1a" text-anchor="end" textLength="33.6" lengthAdjust="spacingAndGlyphs" transform="rotate(-37 277.81 675.40)">BioGoods Ltd.</text>
<text x="307.67" y="675.40" font-size="6.0" fill="#1a1a1a" text-anchor="end" textLength="35.6" lengthAdjust="spacingAndGlyphs" transform="rotate(-37 307.67 675.40)">Cornylee Corp.</text>
<defs><linearGradient id="cb1" x1="0" y1="0" x2="0" y2="1"><stop offset="0.0000" stop-color="#024626"/><stop offset="0.0159" stop-color="#054b28"/><stop offset="0.1905" stop-color="#1e6e3c"/><stop offset="0.3651" stop-color="#287d41"/><stop offset="0.4921" stop-color="#6ca85a"/><stop offset="0.5079" stop-color="#6eaa5a"/><stop offset="0.5873" stop-color="#87b964"/><stop offset="0.6190" stop-color="#96c369"/><stop offset="0.6508" stop-color="#9bc86e"/><stop offset="0.6984" stop-color="#b4d280"/><stop offset="0.8254" stop-color="#d7e496"/><stop offset="0.8730" stop-color="#e9eba5"/><stop offset="1.0000" stop-color="#fcf8d4"/></linearGradient></defs>
<rect x="326.00" y="454.40" width="9.00" height="215.00" fill="url(#cb1)"/>
<line x1="335.00" y1="454.60" x2="336.60" y2="454.60" stroke="#333" stroke-width="0.6"/>
<line x1="335.00" y1="669.20" x2="336.60" y2="669.20" stroke="#333" stroke-width="0.6"/>
<text x="337.80" y="457.30" font-size="6.3" fill="#222" text-anchor="start" textLength="9.7" lengthAdjust="spacingAndGlyphs">6.3</text>
<text x="337.80" y="672.30" font-size="6.3" fill="#222" text-anchor="start" textLength="9.7" lengthAdjust="spacingAndGlyphs">0.0</text>
<text x="355.40" y="561.80" font-size="9" fill="#111" text-anchor="middle" textLength="44" lengthAdjust="spacingAndGlyphs" transform="rotate(-90 355.40 561.80)">Yield (Units)</text>
<text x="72.20" y="561.50" font-size="8.6" fill="#111" text-anchor="middle" textLength="37" lengthAdjust="spacingAndGlyphs" transform="rotate(-90 72.20 561.50)">Vegetable</text>
<text x="217.30" y="706.80" font-size="8.2" fill="#111" text-anchor="middle" textLength="28.9" lengthAdjust="spacingAndGlyphs">Farmers</text>
<text x="217.75" y="450.70" font-size="10.5" fill="#111" text-anchor="middle" font-weight="bold" textLength="200.1" lengthAdjust="spacingAndGlyphs">Harvest Yields by Farmer and Vegetable</text>
<rect x="491.30" y="459.40" width="30.67" height="30.72" fill="#f7fcb9"/>
<rect x="521.97" y="459.40" width="30.67" height="30.72" fill="#abdc8d"/>
<rect x="552.64" y="459.40" width="30.67" height="30.72" fill="#a4d98a"/>
<rect x="583.31" y="459.40" width="30.67" height="30.72" fill="#43ac5e"/>
<rect x="613.98" y="459.40" width="30.67" height="30.72" fill="#ffffe5"/>
<rect x="644.65" y="459.40" width="30.67" height="30.72" fill="#3fa85b"/>
<rect x="675.32" y="459.40" width="30.67" height="30.72" fill="#ffffe5"/>
<rect x="491.30" y="490.12" width="30.67" height="30.72" fill="#abdc8d"/>
<rect x="521.97" y="490.12" width="30.67" height="30.72" fill="#ffffe5"/>
<rect x="552.64" y="490.12" width="30.67" height="30.72" fill="#3fa85b"/>
<rect x="583.31" y="490.12" width="30.67" height="30.72" fill="#eff9b3"/>
<rect x="613.98" y="490.12" width="30.67" height="30.72" fill="#97d385"/>
<rect x="644.65" y="490.12" width="30.67" height="30.72" fill="#ffffe5"/>
<rect x="675.32" y="490.12" width="30.67" height="30.72" fill="#ffffe5"/>
<rect x="491.30" y="520.84" width="30.67" height="30.72" fill="#ecf7b1"/>
<rect x="521.97" y="520.84" width="30.67" height="30.72" fill="#abdc8d"/>
<rect x="552.64" y="520.84" width="30.67" height="30.72" fill="#f7fcb9"/>
<rect x="583.31" y="520.84" width="30.67" height="30.72" fill="#339951"/>
<rect x="613.98" y="520.84" width="30.67" height="30.72" fill="#c7e89a"/>
<rect x="644.65" y="520.84" width="30.67" height="30.72" fill="#2f944e"/>
<rect x="675.32" y="520.84" width="30.67" height="30.72" fill="#ffffe5"/>
<rect x="491.30" y="551.56" width="30.67" height="30.72" fill="#f9fdc4"/>
<rect x="521.97" y="551.56" width="30.67" height="30.72" fill="#ffffe5"/>
<rect x="552.64" y="551.56" width="30.67" height="30.72" fill="#fcfed4"/>
<rect x="583.31" y="551.56" width="30.67" height="30.72" fill="#ffffe5"/>
<rect x="613.98" y="551.56" width="30.67" height="30.72" fill="#7cc87b"/>
<rect x="644.65" y="551.56" width="30.67" height="30.72" fill="#ffffe5"/>
<rect x="675.32" y="551.56" width="30.67" height="30.72" fill="#ffffe5"/>
<rect x="491.30" y="582.28" width="30.67" height="30.72" fill="#f8fcbe"/>
<rect x="521.97" y="582.28" width="30.67" height="30.72" fill="#d2eda0"/>
<rect x="552.64" y="582.28" width="30.67" height="30.72" fill="#f9fdc4"/>
<rect x="583.31" y="582.28" width="30.67" height="30.72" fill="#9dd688"/>
<rect x="613.98" y="582.28" width="30.67" height="30.72" fill="#b6e192"/>
<rect x="644.65" y="582.28" width="30.67" height="30.72" fill="#00492b"/>
<rect x="675.32" y="582.28" width="30.67" height="30.72" fill="#ffffe5"/>
<rect x="491.30" y="613.00" width="30.67" height="30.72" fill="#e4f4ab"/>
<rect x="521.97" y="613.00" width="30.67" height="30.72" fill="#e8f6ae"/>
<rect x="552.64" y="613.00" width="30.67" height="30.72" fill="#ffffe5"/>
<rect x="583.31" y="613.00" width="30.67" height="30.72" fill="#ffffe5"/>
<rect x="613.98" y="613.00" width="30.67" height="30.72" fill="#ffffe5"/>
<rect x="644.65" y="613.00" width="30.67" height="30.72" fill="#74c477"/>
<rect x="675.32" y="613.00" width="30.67" height="30.72" fill="#12763d"/>
<rect x="491.30" y="643.72" width="30.67" height="30.72" fill="#feffdf"/>
<rect x="521.97" y="643.72" width="30.67" height="30.72" fill="#c1e698"/>
<rect x="552.64" y="643.72" width="30.67" height="30.72" fill="#ffffe5"/>
<rect x="583.31" y="643.72" width="30.67" height="30.72" fill="#e0f3a8"/>
<rect x="613.98" y="643.72" width="30.67" height="30.72" fill="#ffffe5"/>
<rect x="644.65" y="643.72" width="30.67" height="30.72" fill="#c7e89a"/>
<rect x="675.32" y="643.72" width="30.67" height="30.72" fill="#004529"/>
<line x1="521.97" y1="459.40" x2="521.97" y2="674.44" stroke="#fff" stroke-width="1" stroke-opacity="0.35"/>
<line x1="491.30" y1="490.12" x2="705.99" y2="490.12" stroke="#fff" stroke-width="1" stroke-opacity="0.35"/>
<line x1="552.64" y1="459.40" x2="552.64" y2="674.44" stroke="#fff" stroke-width="1" stroke-opacity="0.35"/>
<line x1="491.30" y1="520.84" x2="705.99" y2="520.84" stroke="#fff" stroke-width="1" stroke-opacity="0.35"/>
<line x1="583.31" y1="459.40" x2="583.31" y2="674.44" stroke="#fff" stroke-width="1" stroke-opacity="0.35"/>
<line x1="491.30" y1="551.56" x2="705.99" y2="551.56" stroke="#fff" stroke-width="1" stroke-opacity="0.35"/>
<line x1="613.98" y1="459.40" x2="613.98" y2="674.44" stroke="#fff" stroke-width="1" stroke-opacity="0.35"/>
<line x1="491.30" y1="582.28" x2="705.99" y2="582.28" stroke="#fff" stroke-width="1" stroke-opacity="0.35"/>
<line x1="644.65" y1="459.40" x2="644.65" y2="674.44" stroke="#fff" stroke-width="1" stroke-opacity="0.35"/>
<line x1="491.30" y1="613.00" x2="705.99" y2="613.00" stroke="#fff" stroke-width="1" stroke-opacity="0.35"/>
<line x1="675.32" y1="459.40" x2="675.32" y2="674.44" stroke="#fff" stroke-width="1" stroke-opacity="0.35"/>
<line x1="491.30" y1="643.72" x2="705.99" y2="643.72" stroke="#fff" stroke-width="1" stroke-opacity="0.35"/>
<rect x="491.3" y="459.4" width="214.69" height="215.04" fill="none" stroke="#444" stroke-width="0.9"/>
<text x="506.63" y="476.56" font-size="5" fill="#111" text-anchor="middle" font-family="DejaVu Sans, sans-serif">0.8</text>
<text x="537.31" y="476.56" font-size="5" fill="#111" text-anchor="middle" font-family="DejaVu Sans, sans-serif">2.4</text>
<text x="567.98" y="476.56" font-size="5" fill="#111" text-anchor="middle" font-family="DejaVu Sans, sans-serif">2.5</text>
<text x="598.64" y="476.56" font-size="5" fill="#fff" text-anchor="middle" font-family="DejaVu Sans, sans-serif">3.9</text>
<text x="629.32" y="476.56" font-size="5" fill="#111" text-anchor="middle" font-family="DejaVu Sans, sans-serif">0.0</text>
<text x="659.99" y="476.56" font-size="5" fill="#fff" text-anchor="middle" font-family="DejaVu Sans, sans-serif">4.0</text>
<text x="690.65" y="476.56" font-size="5" fill="#111" text-anchor="middle" font-family="DejaVu Sans, sans-serif">0.0</text>
<text x="506.63" y="507.28" font-size="5" fill="#111" text-anchor="middle" font-family="DejaVu Sans, sans-serif">2.4</text>
<text x="537.31" y="507.28" font-size="5" fill="#111" text-anchor="middle" font-family="DejaVu Sans, sans-serif">0.0</text>
<text x="567.98" y="507.28" font-size="5" fill="#fff" text-anchor="middle" font-family="DejaVu Sans, sans-serif">4.0</text>
<text x="598.64" y="507.28" font-size="5" fill="#111" text-anchor="middle" font-family="DejaVu Sans, sans-serif">1.0</text>
<text x="629.32" y="507.28" font-size="5" fill="#111" text-anchor="middle" font-family="DejaVu Sans, sans-serif">2.7</text>
<text x="659.99" y="507.28" font-size="5" fill="#111" text-anchor="middle" font-family="DejaVu Sans, sans-serif">0.0</text>
<text x="690.65" y="507.28" font-size="5" fill="#111" text-anchor="middle" font-family="DejaVu Sans, sans-serif">0.0</text>
<text x="506.63" y="538.00" font-size="5" fill="#111" text-anchor="middle" font-family="DejaVu Sans, sans-serif">1.1</text>
<text x="537.31" y="538.00" font-size="5" fill="#111" text-anchor="middle" font-family="DejaVu Sans, sans-serif">2.4</text>
<text x="567.98" y="538.00" font-size="5" fill="#111" text-anchor="middle" font-family="DejaVu Sans, sans-serif">0.8</text>
<text x="598.64" y="538.00" font-size="5" fill="#fff" text-anchor="middle" font-family="DejaVu Sans, sans-serif">4.3</text>
<text x="629.32" y="538.00" font-size="5" fill="#111" text-anchor="middle" font-family="DejaVu Sans, sans-serif">1.9</text>
<text x="659.99" y="538.00" font-size="5" fill="#fff" text-anchor="middle" font-family="DejaVu Sans, sans-serif">4.4</text>
<text x="690.65" y="538.00" font-size="5" fill="#111" text-anchor="middle" font-family="DejaVu Sans, sans-serif">0.0</text>
<text x="506.63" y="568.72" font-size="5" fill="#111" text-anchor="middle" font-family="DejaVu Sans, sans-serif">0.6</text>
<text x="537.31" y="568.72" font-size="5" fill="#111" text-anchor="middle" font-family="DejaVu Sans, sans-serif">0.0</text>
<text x="567.98" y="568.72" font-size="5" fill="#111" text-anchor="middle" font-family="DejaVu Sans, sans-serif">0.3</text>
<text x="598.64" y="568.72" font-size="5" fill="#111" text-anchor="middle" font-family="DejaVu Sans, sans-serif">0.0</text>
<text x="629.32" y="568.72" font-size="5" fill="#111" text-anchor="middle" font-family="DejaVu Sans, sans-serif">3.1</text>
<text x="659.99" y="568.72" font-size="5" fill="#111" text-anchor="middle" font-family="DejaVu Sans, sans-serif">0.0</text>
<text x="690.65" y="568.72" font-size="5" fill="#111" text-anchor="middle" font-family="DejaVu Sans, sans-serif">0.0</text>
<text x="506.63" y="599.44" font-size="5" fill="#111" text-anchor="middle" font-family="DejaVu Sans, sans-serif">0.7</text>
<text x="537.31" y="599.44" font-size="5" fill="#111" text-anchor="middle" font-family="DejaVu Sans, sans-serif">1.7</text>
<text x="567.98" y="599.44" font-size="5" fill="#111" text-anchor="middle" font-family="DejaVu Sans, sans-serif">0.6</text>
<text x="598.64" y="599.44" font-size="5" fill="#111" text-anchor="middle" font-family="DejaVu Sans, sans-serif">2.6</text>
<text x="629.32" y="599.44" font-size="5" fill="#111" text-anchor="middle" font-family="DejaVu Sans, sans-serif">2.2</text>
<text x="659.99" y="599.44" font-size="5" fill="#fff" text-anchor="middle" font-family="DejaVu Sans, sans-serif">6.2</text>
<text x="690.65" y="599.44" font-size="5" fill="#111" text-anchor="middle" font-family="DejaVu Sans, sans-serif">0.0</text>
<text x="506.63" y="630.16" font-size="5" fill="#111" text-anchor="middle" font-family="DejaVu Sans, sans-serif">1.3</text>
<text x="537.31" y="630.16" font-size="5" fill="#111" text-anchor="middle" font-family="DejaVu Sans, sans-serif">1.2</text>
<text x="567.98" y="630.16" font-size="5" fill="#111" text-anchor="middle" font-family="DejaVu Sans, sans-serif">0.0</text>
<text x="598.64" y="630.16" font-size="5" fill="#111" text-anchor="middle" font-family="DejaVu Sans, sans-serif">0.0</text>
<text x="629.32" y="630.16" font-size="5" fill="#111" text-anchor="middle" font-family="DejaVu Sans, sans-serif">0.0</text>
<text x="659.99" y="630.16" font-size="5" fill="#111" text-anchor="middle" font-family="DejaVu Sans, sans-serif">3.2</text>
<text x="690.65" y="630.16" font-size="5" fill="#fff" text-anchor="middle" font-family="DejaVu Sans, sans-serif">5.1</text>
<text x="506.63" y="660.88" font-size="5" fill="#111" text-anchor="middle" font-family="DejaVu Sans, sans-serif">0.1</text>
<text x="537.31" y="660.88" font-size="5" fill="#111" text-anchor="middle" font-family="DejaVu Sans, sans-serif">2.0</text>
<text x="567.98" y="660.88" font-size="5" fill="#111" text-anchor="middle" font-family="DejaVu Sans, sans-serif">0.0</text>
<text x="598.64" y="660.88" font-size="5" fill="#111" text-anchor="middle" font-family="DejaVu Sans, sans-serif">1.4</text>
<text x="629.32" y="660.88" font-size="5" fill="#111" text-anchor="middle" font-family="DejaVu Sans, sans-serif">0.0</text>
<text x="659.99" y="660.88" font-size="5" fill="#111" text-anchor="middle" font-family="DejaVu Sans, sans-serif">1.9</text>
<text x="690.65" y="660.88" font-size="5" fill="#fff" text-anchor="middle" font-family="DejaVu Sans, sans-serif">6.3</text>
<text x="487.60" y="476.56" font-size="5" fill="#333" text-anchor="end" font-family="DejaVu Sans, sans-serif">cucumber</text>
<text x="487.60" y="507.28" font-size="5" fill="#333" text-anchor="end" font-family="DejaVu Sans, sans-serif">tomato</text>
<text x="487.60" y="538.00" font-size="5" fill="#333" text-anchor="end" font-family="DejaVu Sans, sans-serif">lettuce</text>
<text x="487.60" y="568.72" font-size="5" fill="#333" text-anchor="end" font-family="DejaVu Sans, sans-serif">asparagus</text>
<text x="487.60" y="599.44" font-size="5" fill="#333" text-anchor="end" font-family="DejaVu Sans, sans-serif">potato</text>
<text x="487.60" y="630.16" font-size="5" fill="#333" text-anchor="end" font-family="DejaVu Sans, sans-serif">wheat</text>
<text x="487.60" y="660.88" font-size="5" fill="#333" text-anchor="end" font-family="DejaVu Sans, sans-serif">barley</text>
<text x="508.94" y="680.90" font-size="5" fill="#333" text-anchor="end" font-family="DejaVu Sans, sans-serif" transform="rotate(-45 508.94 680.90)">Farmer Joe</text>
<text x="539.61" y="680.90" font-size="5" fill="#333" text-anchor="end" font-family="DejaVu Sans, sans-serif" transform="rotate(-45 539.61 680.90)">Upland Bros.</text>
<text x="570.27" y="680.90" font-size="5" fill="#333" text-anchor="end" font-family="DejaVu Sans, sans-serif" transform="rotate(-45 570.27 680.90)">Smith Gardening</text>
<text x="600.94" y="680.90" font-size="5" fill="#333" text-anchor="end" font-family="DejaVu Sans, sans-serif" transform="rotate(-45 600.94 680.90)">Agrifun</text>
<text x="631.62" y="680.90" font-size="5" fill="#333" text-anchor="end" font-family="DejaVu Sans, sans-serif" transform="rotate(-45 631.62 680.90)">Organiculture</text>
<text x="662.28" y="680.90" font-size="5" fill="#333" text-anchor="end" font-family="DejaVu Sans, sans-serif" transform="rotate(-45 662.28 680.90)">BioGoods Ltd.</text>
<text x="692.95" y="680.90" font-size="5" fill="#333" text-anchor="end" font-family="DejaVu Sans, sans-serif" transform="rotate(-45 692.95 680.90)">Cornylee Corp.</text>
<defs><linearGradient id="cb2" x1="0" y1="0" x2="0" y2="1"><stop offset="0.0000" stop-color="#004529"/><stop offset="0.0417" stop-color="#00502d"/><stop offset="0.0833" stop-color="#005c32"/><stop offset="0.1250" stop-color="#006737"/><stop offset="0.1667" stop-color="#0b713b"/><stop offset="0.2083" stop-color="#177b3f"/><stop offset="0.2500" stop-color="#228343"/><stop offset="0.2917" stop-color="#2d914b"/><stop offset="0.3333" stop-color="#379e54"/><stop offset="0.3750" stop-color="#40aa5c"/><stop offset="0.4167" stop-color="#53b466"/><stop offset="0.4583" stop-color="#66bd70"/><stop offset="0.5000" stop-color="#77c679"/><stop offset="0.5417" stop-color="#89ce80"/><stop offset="0.5833" stop-color="#9cd687"/><stop offset="0.6250" stop-color="#acdd8e"/><stop offset="0.6667" stop-color="#bce395"/><stop offset="0.7083" stop-color="#cbea9c"/><stop offset="0.7500" stop-color="#d9f0a3"/><stop offset="0.7917" stop-color="#e3f4aa"/><stop offset="0.8333" stop-color="#edf8b2"/><stop offset="0.8750" stop-color="#f7fcb9"/><stop offset="0.9167" stop-color="#fafdc8"/><stop offset="0.9583" stop-color="#fcfed7"/><stop offset="1.0000" stop-color="#ffffe5"/></linearGradient></defs>
<rect x="715.40" y="458.60" width="10.60" height="216.80" fill="url(#cb2)" stroke="#bbb" stroke-width="0.5"/>
<line x1="726.00" y1="675.40" x2="727.80" y2="675.40" stroke="#444" stroke-width="0.6"/>
<text x="729.60" y="677.20" font-size="5" fill="#333" text-anchor="start" font-family="DejaVu Sans, sans-serif">0</text>
<line x1="726.00" y1="641.05" x2="727.80" y2="641.05" stroke="#444" stroke-width="0.6"/>
<text x="729.60" y="642.85" font-size="5" fill="#333" text-anchor="start" font-family="DejaVu Sans, sans-serif">1</text>
<line x1="726.00" y1="606.70" x2="727.80" y2="606.70" stroke="#444" stroke-width="0.6"/>
<text x="729.60" y="608.50" font-size="5" fill="#333" text-anchor="start" font-family="DejaVu Sans, sans-serif">2</text>
<line x1="726.00" y1="572.35" x2="727.80" y2="572.35" stroke="#444" stroke-width="0.6"/>
<text x="729.60" y="574.15" font-size="5" fill="#333" text-anchor="start" font-family="DejaVu Sans, sans-serif">3</text>
<line x1="726.00" y1="538.00" x2="727.80" y2="538.00" stroke="#444" stroke-width="0.6"/>
<text x="729.60" y="539.80" font-size="5" fill="#333" text-anchor="start" font-family="DejaVu Sans, sans-serif">4</text>
<line x1="726.00" y1="503.65" x2="727.80" y2="503.65" stroke="#444" stroke-width="0.6"/>
<text x="729.60" y="505.45" font-size="5" fill="#333" text-anchor="start" font-family="DejaVu Sans, sans-serif">5</text>
<line x1="726.00" y1="469.30" x2="727.80" y2="469.30" stroke="#444" stroke-width="0.6"/>
<text x="729.60" y="471.10" font-size="5" fill="#333" text-anchor="start" font-family="DejaVu Sans, sans-serif">6</text>
<text x="735.30" y="567.00" font-size="5" fill="#333" text-anchor="middle" font-family="DejaVu Sans, sans-serif" textLength="51.5" lengthAdjust="spacingAndGlyphs" transform="rotate(90 735.30 567.00)">Yield (Harvest Units)</text>
<text x="598.50" y="450.00" font-size="8" fill="#333" text-anchor="middle" font-weight="bold" font-family="DejaVu Sans, sans-serif" textLength="181.2" lengthAdjust="spacingAndGlyphs">Harvest Yields by Farmer and Vegetable</text>
</svg>
</body></html>
